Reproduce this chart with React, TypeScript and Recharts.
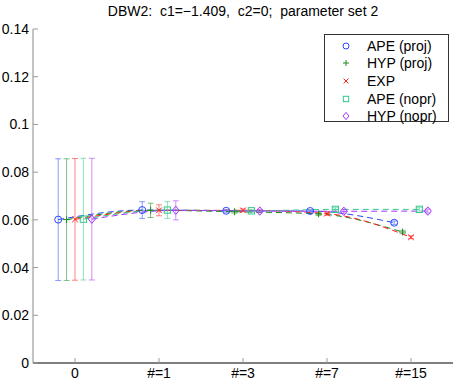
import React from 'react';
import { ComposedChart, Line, XAxis, YAxis, ErrorBar, Legend } from 'recharts';

const categories = ['0', '#=1', '#=3', '#=7', '#=15'];
const yTicks = [0, 0.02, 0.04, 0.06, 0.08, 0.1, 0.12, 0.14];

// values, one per category
const apeProj = [0.0601, 0.0641, 0.0638, 0.0637, 0.0588];
const apeProjErr = [0.0255, 0.0035, 0.0006, 0.0006, 0.0007];
const hypProj = [0.0601, 0.064, 0.0634, 0.0625, 0.0549];
const hypProjErr = [0.0255, 0.003, 0.0006, 0.0007, 0.0007];
const expVals = [0.0602, 0.064, 0.064, 0.0626, 0.0527];
const expErr = [0.0255, 0.0023, 0.0006, 0.0007, 0.0006];
const apeNopr = [0.0603, 0.0641, 0.0638, 0.0644, 0.0644];
const apeNoprErr = [0.0255, 0.0035, 0.0006, 0.0007, 0.0007];
const hypNopr = [0.0603, 0.064, 0.0637, 0.0636, 0.0637];
const hypNoprErr = [0.0255, 0.004, 0.0007, 0.0008, 0.0008];

const FONT = '"Liberation Sans", Arial, Helvetica, sans-serif';

type Kind = 'circle' | 'plus' | 'cross' | 'square' | 'diamond';

const series = [
  { name: 'APE (proj)', values: apeProj, errs: apeProjErr, color: '#2a48ff', offset: -0.2, kind: 'circle' as Kind },
  { name: 'HYP (proj)', values: hypProj, errs: hypProjErr, color: '#1f8a1f', offset: -0.1, kind: 'plus' as Kind },
  { name: 'EXP', values: expVals, errs: expErr, color: '#ff2020', offset: 0, kind: 'cross' as Kind },
  { name: 'APE (nopr)', values: apeNopr, errs: apeNoprErr, color: '#33c98a', offset: 0.1, kind: 'square' as Kind },
  { name: 'HYP (nopr)', values: hypNopr, errs: hypNoprErr, color: '#a535ff', offset: 0.2, kind: 'diamond' as Kind },
];

function Marker({ kind, cx, cy, color, s = 3.5 }: { kind: Kind; cx: number; cy: number; color: string; s?: number }) {
  const common = { stroke: color, strokeWidth: 1, fill: 'none' };
  if (kind === 'circle') return <circle cx={cx} cy={cy} r={s} {...common} />;
  if (kind === 'plus')
    return <path d={`M${cx - s} ${cy}H${cx + s}M${cx} ${cy - s}V${cy + s}`} {...common} />;
  if (kind === 'cross') {
    const d = s * 0.8;
    return <path d={`M${cx - d} ${cy - d}L${cx + d} ${cy + d}M${cx - d} ${cy + d}L${cx + d} ${cy - d}`} {...common} />;
  }
  if (kind === 'square') return <rect x={cx - s * 0.9} y={cy - s * 0.9} width={s * 1.8} height={s * 1.8} {...common} />;
  return <path d={`M${cx} ${cy - s * 1.2}L${cx + s} ${cy}L${cx} ${cy + s * 1.2}L${cx - s} ${cy}Z`} {...common} />;
}

const BottomTick = (props: any) => {
  const { x, y, payload } = props;
  return (
    <g>
      <line x1={x} x2={x} y1={y} y2={y - 5} stroke="#999" />
      <text x={x} y={y + 15} textAnchor="middle" fontSize={14} fontFamily={FONT} fill="#000">
        {categories[payload.value]}
      </text>
    </g>
  );
};

const TopTick = (props: any) => {
  const { x, y } = props;
  return <line x1={x} x2={x} y1={y} y2={y + 5} stroke="#999" />;
};

const LeftTick = (props: any) => {
  const { x, y, payload } = props;
  return (
    <g>
      <line x1={x} x2={x + 5} y1={y} y2={y} stroke="#999" />
      <text x={x - 4} y={y + 5} textAnchor="end" fontSize={14} fontFamily={FONT} fill="#000">
        {String(+payload.value.toFixed(2))}
      </text>
    </g>
  );
};

const RightTick = (props: any) => {
  const { x, y } = props;
  return <line x1={x} x2={x - 5} y1={y} y2={y} stroke="#999" />;
};

const LegendBox = () => (
  <div
    style={{
      width: 125,
      height: 88,
      border: '1px solid #333',
      background: '#fff',
      fontFamily: FONT,
      fontSize: 14,
      boxSizing: 'border-box',
      paddingTop: 2,
    }}
  >
    {series.map((s) => (
      <div key={s.name} style={{ display: 'flex', alignItems: 'center', height: 17.6 }}>
        <svg width={42} height={16} style={{ flex: 'none' }}>
          <Marker kind={s.kind} cx={21} cy={8} color={s.color} s={3} />
        </svg>
        <span>{s.name}</span>
      </div>
    ))}
  </div>
);

export default function App() {
  return (
    <div style={{ position: 'absolute', left: 0, top: 0, width: 458, height: 382, background: '#fff' }}>
      <div
        style={{
          position: 'absolute',
          left: 33,
          width: 420,
          top: 3,
          textAlign: 'center',
          fontFamily: FONT,
          fontSize: 14,
          whiteSpace: 'pre',
        }}
      >
        {'DBW2:  c1=\u22121.409,  c2=0;  parameter set 2'}
      </div>
      <ComposedChart width={458} height={382} margin={{ top: 29, right: 5, bottom: 0, left: 0 }}>
        <XAxis
          xAxisId="b"
          dataKey="x"
          type="number"
          domain={[-0.5, 4.5]}
          ticks={[0, 1, 2, 3, 4]}
          allowDataOverflow
          height={19}
          tickSize={0}
          tickMargin={0}
          tickLine={false}
          axisLine={{ stroke: '#000' }}
          tick={<BottomTick />}
          interval={0}
        />
        <XAxis
          xAxisId="t"
          orientation="top"
          dataKey="x"
          type="number"
          domain={[-0.5, 4.5]}
          ticks={[0, 1, 2, 3, 4]}
          allowDataOverflow
          height={0}
          tickSize={0}
          tickMargin={0}
          tickLine={false}
          axisLine={{ stroke: '#000' }}
          tick={<TopTick />}
          interval={0}
        />
        <YAxis
          yAxisId="l"
          type="number"
          domain={[0, 0.14]}
          ticks={yTicks}
          allowDataOverflow
          width={33}
          tickSize={0}
          tickMargin={0}
          tickLine={false}
          axisLine={{ stroke: '#888' }}
          tick={<LeftTick />}
          interval={0}
        />
        <YAxis
          yAxisId="r"
          orientation="right"
          type="number"
          domain={[0, 0.14]}
          ticks={yTicks}
          allowDataOverflow
          width={0}
          tickSize={0}
          tickMargin={0}
          tickLine={false}
          axisLine={{ stroke: '#888' }}
          tick={<RightTick />}
          interval={0}
        />
        <Legend
          layout="vertical"
          align="center"
          verticalAlign="middle"
          wrapperStyle={{ left: 324, top: 34, width: 125, height: 88 }}
          content={() => <LegendBox />}
        />
        {series.map((s) => (
          <Line
            key={s.name}
            xAxisId="b"
            yAxisId="l"
            name={s.name}
            data={s.values.map((v, i) => ({ x: i + s.offset, y: v, err: s.errs[i] }))}
            dataKey="y"
            type="monotone"
            stroke={s.color}
            strokeWidth={1}
            strokeDasharray="6 4"
            isAnimationActive={false}
            dot={(p: any) => <Marker key={`${s.name}-${p.index}`} kind={s.kind} cx={p.cx} cy={p.cy} color={s.color} />}
            activeDot={false}
          >
            <ErrorBar dataKey="err" direction="y" width={3} stroke={s.color} strokeOpacity={0.55} strokeWidth={1} />
          </Line>
        ))}
      </ComposedChart>
    </div>
  );
}
